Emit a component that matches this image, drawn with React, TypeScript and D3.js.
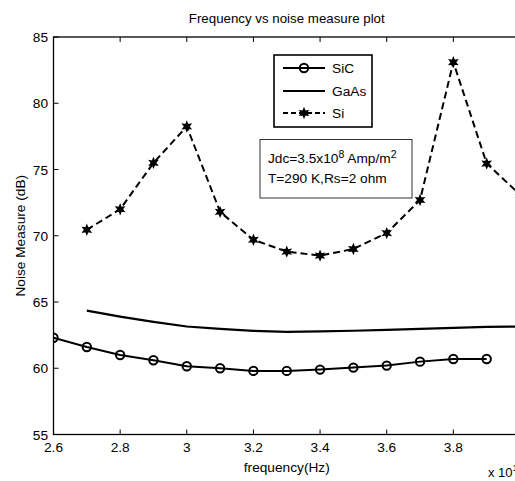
import React from "react";
import * as d3 from "d3";

const freqSiC = [2.6, 2.7, 2.8, 2.9, 3.0, 3.1, 3.2, 3.3, 3.4, 3.5, 3.6, 3.7, 3.8, 3.9];
const valSiC = [62.3, 61.6, 61.0, 60.6, 60.15, 60.0, 59.8, 59.8, 59.9, 60.05, 60.2, 60.5, 60.7, 60.7];

const freqGaAs = [2.7, 2.8, 2.9, 3.0, 3.1, 3.2, 3.3, 3.4, 3.5, 3.6, 3.7, 3.8, 3.9, 4.0];
const valGaAs = [64.35, 63.9, 63.5, 63.15, 62.97, 62.82, 62.74, 62.78, 62.83, 62.9, 62.97, 63.05, 63.12, 63.15];

const freqSi = [2.7, 2.8, 2.9, 3.0, 3.1, 3.2, 3.3, 3.4, 3.5, 3.6, 3.7, 3.8, 3.9, 4.0];
const valSi = [70.45, 72.0, 75.5, 78.25, 71.8, 69.7, 68.8, 68.5, 69.0, 70.2, 72.7, 83.1, 75.45, 73.1];

const xTicks = [2.6, 2.8, 3.0, 3.2, 3.4, 3.6, 3.8, 4.0];
const xTickLabels = ["2.6", "2.8", "3", "3.2", "3.4", "3.6", "3.8", ""];
const yTicks = [55, 60, 65, 70, 75, 80, 85];

const FONT = "'Liberation Sans', Arial, Helvetica, sans-serif";

export default function App() {
  const W = 515, H = 481;
  const left = 53.5, right = 520, top = 37, bottom = 434.5;
  const x = d3.scaleLinear().domain([2.6, 4.0]).range([left, right]);
  const y = d3.scaleLinear().domain([55, 85]).range([bottom, top]);

  const line = d3
    .line<[number, number]>()
    .x((d) => x(d[0]))
    .y((d) => y(d[1]));

  const sic: [number, number][] = freqSiC.map((f, i) => [f, valSiC[i]]);
  const gaas: [number, number][] = freqGaAs.map((f, i) => [f, valGaAs[i]]);
  const si: [number, number][] = freqSi.map((f, i) => [f, valSi[i]]);

  const star = (cx: number, cy: number, R = 4.2, r = 2.0) => {
    const pts: string[] = [];
    for (let k = 0; k < 12; k++) {
      const a = (Math.PI / 6) * k - Math.PI / 2;
      const rr = k % 2 === 0 ? R : r;
      pts.push(`${cx + rr * Math.cos(a)},${cy + rr * Math.sin(a)}`);
    }
    return `M${pts.join("L")}Z`;
  };

  const tl = 5;
  const fs = 13.7;

  return (
    <svg
      width={W}
      height={H}
      style={{ position: "absolute", left: 0, top: 0, background: "#fff", overflow: "hidden" }}
      fontFamily={FONT}
    >
      <rect x={0} y={0} width={W} height={H} fill="#fff" />
      <defs>
        <clipPath id="plotclip">
          <rect x={left} y={top} width={right - left} height={bottom - top} />
        </clipPath>
      </defs>

      {/* title */}
      <text x={(left + right) / 2} y={23} textAnchor="middle" fontSize={13.3} fill="#000">
        Frequency vs noise measure plot
      </text>

      {/* axes box */}
      <rect x={left} y={top} width={right - left} height={bottom - top} fill="none" stroke="#000" strokeWidth={1.3} />

      {/* x ticks */}
      {xTicks.map((t, i) => (
        <g key={"xt" + i}>
          <line x1={x(t)} x2={x(t)} y1={bottom} y2={bottom - tl} stroke="#000" strokeWidth={1} />
          <line x1={x(t)} x2={x(t)} y1={top} y2={top + tl} stroke="#000" strokeWidth={1} />
          {xTickLabels[i] ? (
            <text x={x(t)} y={452} textAnchor="middle" fontSize={fs} fill="#000">
              {xTickLabels[i]}
            </text>
          ) : null}
        </g>
      ))}

      {/* y ticks */}
      {yTicks.map((t, i) => (
        <g key={"yt" + i}>
          <line x1={left} x2={left + tl} y1={y(t)} y2={y(t)} stroke="#000" strokeWidth={1} />
          <line x1={right} x2={right - tl} y1={y(t)} y2={y(t)} stroke="#000" strokeWidth={1} />
          <text x={48} y={y(t) + 5} textAnchor="end" fontSize={fs} fill="#000">
            {t}
          </text>
        </g>
      ))}

      {/* axis labels */}
      <text x={(left + right) / 2} y={472} textAnchor="middle" fontSize={fs} fill="#000">
        frequency(Hz)
      </text>
      <text x={488} y={477} fontSize={13} fill="#000">
        x 10<tspan dy={-6} fontSize={9.5}>10</tspan>
      </text>
      <text
        transform={`translate(25, ${(top + bottom) / 2}) rotate(-90)`}
        textAnchor="middle"
        fontSize={fs}
        fill="#000"
      >
        Noise Measure (dB)
      </text>

      {/* data */}
      <g clipPath="url(#plotclip)">
        <path d={line(gaas) || ""} fill="none" stroke="#000" strokeWidth={2.2} />
        <path d={line(sic) || ""} fill="none" stroke="#000" strokeWidth={2} />
        {sic.map((d, i) => (
          <circle key={"c" + i} cx={x(d[0])} cy={y(d[1])} r={4.2} fill="none" stroke="#000" strokeWidth={2} />
        ))}
        <path d={line(si) || ""} fill="none" stroke="#000" strokeWidth={2} strokeDasharray="7,4" />
        {si.map((d, i) => (
          <path key={"s" + i} d={star(x(d[0]), y(d[1]))} fill="#000" stroke="#000" strokeWidth={1.5} />
        ))}
      </g>

      {/* legend */}
      <rect x={274} y={55} width={98} height={72} fill="#fff" stroke="#000" strokeWidth={1.6} />
      <line x1={283} x2={325} y1={68} y2={68} stroke="#000" strokeWidth={2} />
      <circle cx={304} cy={68} r={4.2} fill="none" stroke="#000" strokeWidth={2} />
      <text x={332} y={73} fontSize={fs} fill="#000">SiC</text>
      <line x1={283} x2={325} y1={91} y2={91} stroke="#000" strokeWidth={2} />
      <text x={332} y={96} fontSize={fs} fill="#000">GaAs</text>
      <line x1={283} x2={325} y1={113} y2={113} stroke="#000" strokeWidth={2} strokeDasharray="5,3" />
      <path d={star(304, 113)} fill="#000" stroke="#000" strokeWidth={1.5} />
      <text x={332} y={118} fontSize={fs} fill="#000">Si</text>

      {/* annotation */}
      <rect x={260} y={139.5} width={152} height={58.5} fill="#fff" stroke="#333" strokeWidth={1} />
      <text x={268} y={163} fontSize={fs} fill="#000">
        Jdc=3.5x10<tspan dy={-5} fontSize={10.5}>8</tspan>
        <tspan dy={5}> Amp/m</tspan>
        <tspan dy={-5} fontSize={10.5}>2</tspan>
      </text>
      <text x={268} y={183} fontSize={fs} fill="#000">
        T=290 K,Rs=2 ohm
      </text>
    </svg>
  );
}
